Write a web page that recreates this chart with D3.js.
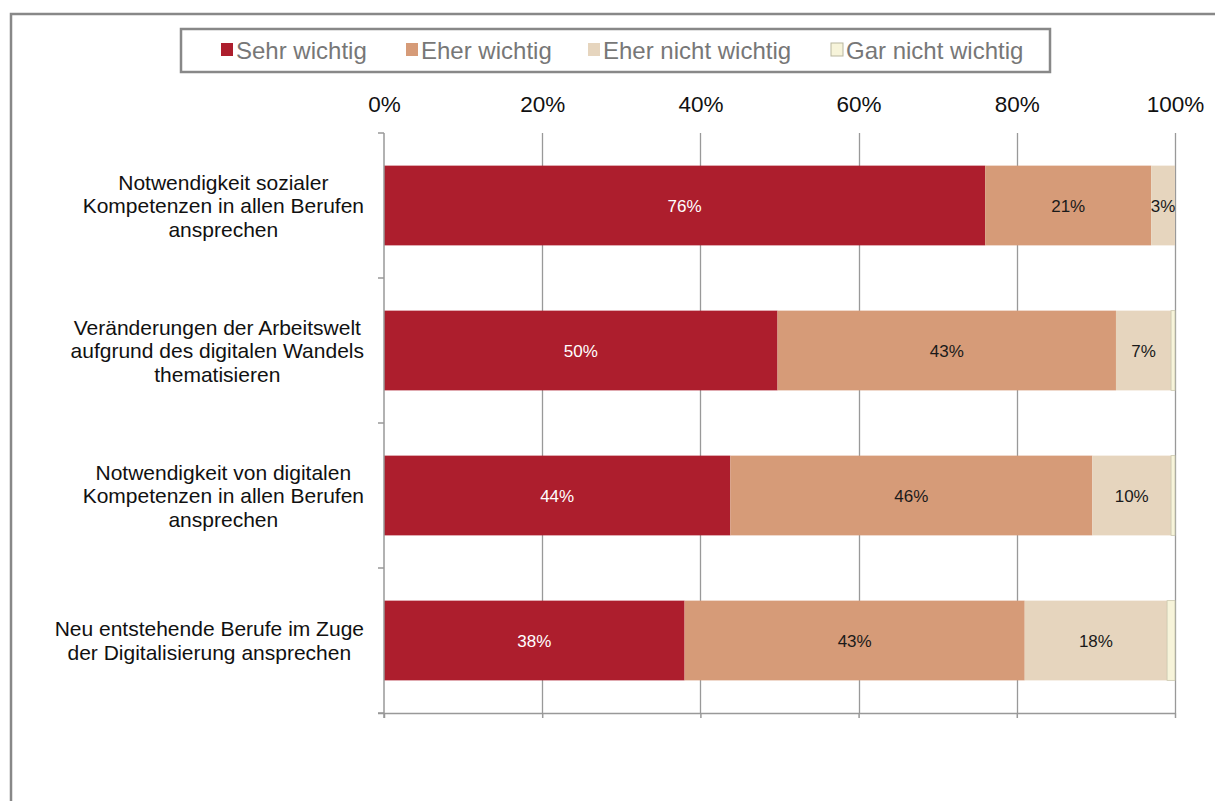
<!DOCTYPE html>
<html>
<head>
<meta charset="utf-8">
<script src="https://cdn.jsdelivr.net/npm/d3@7"></script>
<style>
  html, body { margin: 0; padding: 0; background: #fff; }
  svg { display: block; font-family: "Liberation Sans", Arial, sans-serif; }
</style>
</head>
<body>
<svg id="chart" width="1215" height="801"></svg>
<script>
// Survey topics (multi-line labels)
const categories = [
  ["Notwendigkeit sozialer", "Kompetenzen in allen Berufen", "ansprechen"],
  ["Veränderungen der Arbeitswelt", "aufgrund des digitalen Wandels", "thematisieren"],
  ["Notwendigkeit von digitalen", "Kompetenzen in allen Berufen", "ansprechen"],
  ["Neu entstehende Berufe im Zuge", "der Digitalisierung ansprechen"]
];
const seriesNames = ["Sehr wichtig", "Eher wichtig", "Eher nicht wichtig", "Gar nicht wichtig"];
// Percent shares per topic, one array per answer option
const sehrWichtig      = [76, 50, 44, 38];
const eherWichtig      = [21, 43, 46, 43];
const eherNichtWichtig = [3, 7, 10, 18];
const garNichtWichtig  = [0, 0.5, 0.5, 1];
const tickValues = [0, 0.2, 0.4, 0.6, 0.8, 1];
const colors = ["#AD1E2D", "#D69B78", "#E6D5BE", "#F7F4DA"];
const labelColors = ["#ffffff", "#1a1a1a", "#1a1a1a", "#1a1a1a"];

const seriesValues = [sehrWichtig, eherWichtig, eherNichtWichtig, garNichtWichtig];
const rows = categories.map((c, i) => {
  const r = { idx: i };
  seriesNames.forEach((s, k) => r[s] = seriesValues[k][i]);
  return r;
});

const svg = d3.select("#chart");

// outer chart frame
svg.append("rect")
  .attr("x", 11).attr("y", 14).attr("width", 1220).attr("height", 800)
  .attr("fill", "none").attr("stroke", "#888").attr("stroke-width", 2.5);

const plotLeft = 384, plotRight = 1175, plotTop = 133, plotBottom = 713;

const x = d3.scaleLinear().domain([0, 1]).range([plotLeft, plotRight]);
const y = d3.scaleBand().domain(d3.range(categories.length)).range([plotTop, plotBottom]).paddingInner(0.45).paddingOuter(0.225);

const stacked = d3.stack().keys(seriesNames).offset(d3.stackOffsetExpand)(rows);

// vertical gridlines
svg.append("g").selectAll("line").data(tickValues.slice(1)).join("line")
  .attr("x1", d => Math.round(x(d)) + 0.5).attr("x2", d => Math.round(x(d)) + 0.5)
  .attr("y1", plotTop).attr("y2", plotBottom)
  .attr("stroke", "#999").attr("stroke-width", 1.3);

// bars
const g = svg.append("g");
stacked.forEach((layer, k) => {
  g.append("g").selectAll("rect").data(layer).join("rect")
    .attr("x", d => x(d[0]))
    .attr("y", (d, i) => y(i))
    .attr("width", d => Math.max(0, x(d[1]) - x(d[0])))
    .attr("height", y.bandwidth())
    .attr("fill", colors[k])
    .attr("stroke", k === 3 ? "#c9c7ad" : "none")
    .attr("stroke-width", k === 3 ? 0.8 : 0);
});

// value labels
stacked.forEach((layer, k) => {
  if (k === 3) return;
  g.append("g").selectAll("text").data(layer).join("text")
    .attr("x", d => (x(d[0]) + x(d[1])) / 2)
    .attr("y", (d, i) => y(i) + y.bandwidth() / 2 + 6)
    .attr("text-anchor", "middle")
    .attr("font-size", 17)
    .attr("fill", labelColors[k])
    .text((d, i) => seriesValues[k][i] + "%");
});

// top axis labels
const xAxis = d3.axisTop(x).tickValues(tickValues).tickFormat(d3.format(".0%")).tickSize(0).tickPadding(0);
const ax = svg.append("g").attr("transform", `translate(0,112)`).call(xAxis);
ax.select(".domain").remove();
ax.selectAll("text").attr("font-size", 22.5).attr("fill", "#111").attr("font-family", "Liberation Sans, Arial, sans-serif").attr("dy", 0);

// bottom axis line with tick marks
const bAxis = d3.axisBottom(x).tickValues(tickValues).tickSize(5).tickFormat("");
const bx = svg.append("g").attr("transform", `translate(0,${plotBottom})`).call(bAxis);
bx.select(".domain").attr("stroke", "#999").attr("stroke-width", 1.5).attr("d", `M${plotLeft - 6},0.5H${plotRight}`);
bx.selectAll(".tick line").attr("stroke", "#999").attr("stroke-width", 1.5);

// left category axis with boundary ticks
const boundaries = d3.range(categories.length + 1).map(i => plotTop + i * (plotBottom - plotTop) / categories.length);
const la = svg.append("g");
la.append("line").attr("x1", plotLeft).attr("x2", plotLeft).attr("y1", plotTop).attr("y2", plotBottom + 5)
  .attr("stroke", "#999").attr("stroke-width", 1.5);
la.selectAll("line.t").data(boundaries).join("line").attr("class", "t")
  .attr("x1", plotLeft - 6).attr("x2", plotLeft).attr("y1", d => d).attr("y2", d => d)
  .attr("stroke", "#999").attr("stroke-width", 1.5);

// category labels: block right-aligned, lines centered within block
const labelRight = 364, lineH = 23.5;
categories.forEach((lines, i) => {
  const grp = svg.append("g");
  const cy = y(i) + y.bandwidth() / 2;
  const t0 = cy - (lines.length - 1) * lineH / 2 + 7.5;
  const texts = lines.map((ln, j) => grp.append("text")
    .attr("y", t0 + j * lineH)
    .attr("font-size", 21)
    .attr("fill", "#111")
    .attr("text-anchor", "middle")
    .text(ln));
  const w = d3.max(texts, t => t.node().getComputedTextLength());
  texts.forEach(t => t.attr("x", labelRight - w / 2));
});

// legend
const lg = svg.append("g");
lg.append("rect").attr("x", 181).attr("y", 29).attr("width", 869).attr("height", 43)
  .attr("fill", "#fff").attr("stroke", "#888").attr("stroke-width", 2.5);
const legendX = [221, 406, 588, 831];
seriesNames.forEach((s, k) => {
  lg.append("rect").attr("x", legendX[k]).attr("y", 43).attr("width", 12).attr("height", 13)
    .attr("fill", colors[k]).attr("stroke", k === 3 ? "#b9b7a0" : "none").attr("stroke-width", 1);
  lg.append("text").attr("x", legendX[k] + 15).attr("y", 58.5)
    .attr("font-size", 24).attr("fill", "#777").text(s);
});
</script>
</body>
</html>
